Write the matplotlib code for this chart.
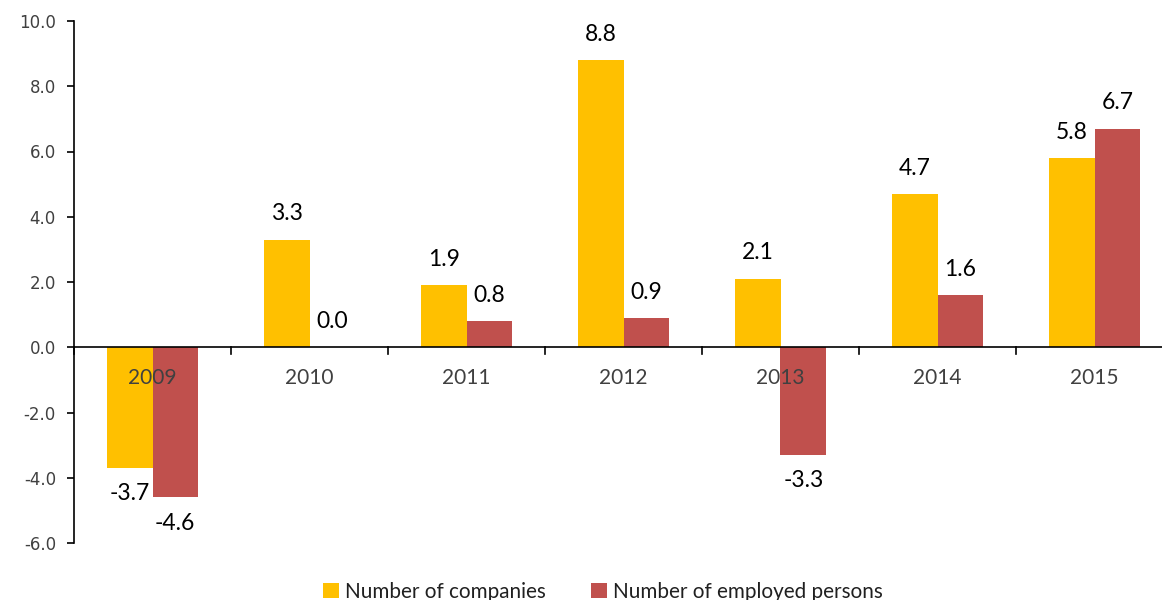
import matplotlib
matplotlib.use("Agg")
import matplotlib.pyplot as plt
import numpy as np
from matplotlib.patches import Patch

years = ["2009", "2010", "2011", "2012", "2013", "2014", "2015"]
companies = [-3.7, 3.3, 1.9, 8.8, 2.1, 4.7, 5.8]
employed = [-4.6, 0.0, 0.8, 0.9, -3.3, 1.6, 6.7]
series_names = ["Number of companies", "Number of employed persons"]
colors = ["#FFC000", "#C0504D"]
yticks = [-6, -4, -2, 0, 2, 4, 6, 8, 10]

W, H = 1162, 600
fig = plt.figure(figsize=(W / 100, H / 100), dpi=100)
left, right = 74 / W, 1173 / W
bottom, top = (H - 543) / H, (H - 21) / H
ax = fig.add_axes([left, bottom, right - left, top - bottom])

x = np.arange(len(years))
bw = 0.29
b1 = ax.bar(x - bw / 2, companies, bw, color=colors[0], zorder=2)
b2 = ax.bar(x + bw / 2, employed, bw, color=colors[1], zorder=2)

lab_font = dict(family=["Lato", "DejaVu Sans"], size=16.5, color="black")
for bars, vals in ((b1, companies), (b2, employed)):
    ax.bar_label(bars, labels=[f"{v:.1f}" for v in vals], padding=11, **lab_font)

ax.set_xlim(-0.5, len(years) - 0.5)
ax.set_ylim(-6, 10)
ax.set_yticks(yticks)
ax.set_yticklabels([f"{v:.1f}" for v in yticks], family="DejaVu Sans", fontsize=12, color="#404040")

for s in ["top", "right", "bottom"]:
    ax.spines[s].set_visible(False)
ax.spines["left"].set_linewidth(1.2)
ax.axhline(0, color="black", lw=1.2, zorder=3)

ax.set_xticks([])
for xb in np.arange(-0.5, len(years) + 0.5, 1.0):
    ax.plot([xb, xb], [0, -0.2], color="black", lw=1.2, zorder=3, clip_on=False)
for xi, yr in zip(x, years):
    ax.text(xi, -0.95, yr, ha="center", va="center", family=["Lato", "DejaVu Sans"],
            fontsize=15, color="#404040", zorder=4)

ax.tick_params(axis="y", direction="out", length=5, width=1.2, pad=8)

handles = [Patch(facecolor=c, edgecolor="none") for c in colors]
fig.legend(handles, series_names, loc="center", bbox_to_anchor=(603 / W, 1 - 592 / H),
           ncol=2, frameon=False, prop=dict(family=["Lato", "DejaVu Sans"], size=14.9),
           handlelength=0.75, handleheight=0.75, handletextpad=0.3, columnspacing=2.2,
           labelcolor="#202020")

fig.savefig("out.png", dpi=100)
